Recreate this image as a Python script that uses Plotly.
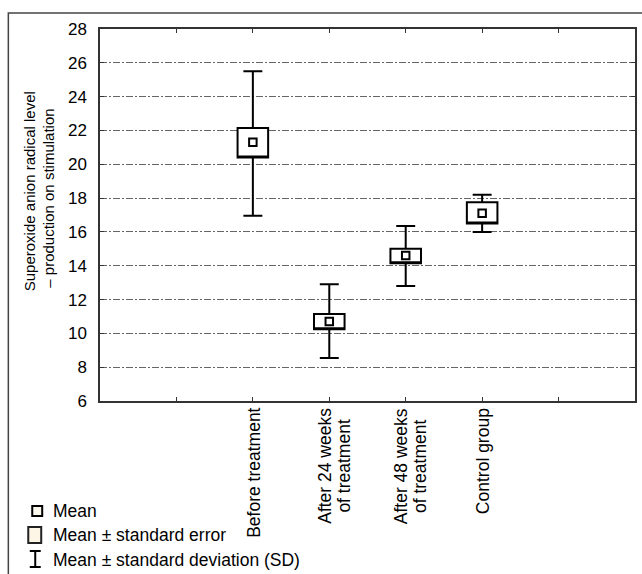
import plotly.graph_objects as go

# ---- data ----
categories = ["Before treatment", "After 24 weeks<br>of treatment",
              "After 48 weeks<br>of treatment", "Control group"]
mean_vals = [21.3, 10.7, 14.6, 17.1]
se_low = [20.4, 10.25, 14.15, 16.5]
se_high = [22.15, 11.15, 15.0, 17.75]
sd_low = [16.95, 8.55, 12.8, 16.0]
sd_high = [25.5, 12.9, 16.35, 18.2]
y_ticks = [6, 8, 10, 12, 14, 16, 18, 20, 22, 24, 26, 28]
legend_labels = ["Mean", "Mean ± standard error", "Mean ± standard deviation (SD)"]
y_title_lines = ["Superoxide anion radical level", "– production on stimulation"]

FONT = "Liberation Sans, Arial, sans-serif"
W, H = 642, 574
ML, MR, MT, MB = 100, 5, 29, 173
PW, PH = W - ML - MR, H - MT - MB

# category slots: one empty slot on each side of the 4 groups
xpos = [i + 2 for i in range(len(categories))]
tickvals = list(range(1, len(categories) + 3))


def px(xp):
    return (xp - ML) / PW


def py(yp):
    return (H - MB - yp) / PH


def big(s, size=17.5):
    # keep a tight line pitch (set by the small base font) with large glyphs
    return "<br>".join(f'<span style="font-size:{size}px">{p}</span>' for p in s.split("<br>"))


fig = go.Figure()

# SE box + SD whiskers
fig.add_trace(go.Box(
    x=xpos, q1=se_low, median=se_low, q3=se_high,
    lowerfence=sd_low, upperfence=sd_high,
    width=0.4, whiskerwidth=0.62,
    fillcolor="white", line=dict(color="black", width=2),
    boxpoints=False, showlegend=False, hoverinfo="skip",
))

# Mean marker
fig.add_trace(go.Scatter(
    x=xpos, y=mean_vals, mode="markers",
    marker=dict(symbol="square", size=7.5, color="white",
                line=dict(color="black", width=2)),
    showlegend=False,
))

shapes = []
annotations = []

# outer frame (only top/left visible)
shapes.append(dict(type="rect", xref="paper", yref="paper",
                   x0=px(8), x1=px(660), y0=py(600), y1=py(13),
                   line=dict(color="#444", width=1.5), layer="below"))

# legend icons
shapes.append(dict(type="rect", xref="paper", yref="paper",
                   x0=px(32), x1=px(42), y0=py(516), y1=py(506),
                   fillcolor="#fdf8ee", line=dict(color="black", width=2)))
shapes.append(dict(type="rect", xref="paper", yref="paper",
                   x0=px(28), x1=px(41), y0=py(543), y1=py(527),
                   fillcolor="#fdf6e6", line=dict(color="#222", width=2)))
shapes.append(dict(type="line", xref="paper", yref="paper",
                   x0=px(35), x1=px(35), y0=py(567), y1=py(551),
                   line=dict(color="black", width=2)))
shapes.append(dict(type="line", xref="paper", yref="paper",
                   x0=px(29.5), x1=px(40.5), y0=py(551), y1=py(551),
                   line=dict(color="black", width=2)))
shapes.append(dict(type="line", xref="paper", yref="paper",
                   x0=px(29.5), x1=px(40.5), y0=py(567), y1=py(567),
                   line=dict(color="black", width=2)))

for lab, yc in zip(legend_labels, [511, 535, 560]):
    annotations.append(dict(text=lab, xref="paper", yref="paper",
                            x=px(51), y=py(yc), xanchor="left", yanchor="middle",
                            showarrow=False, font=dict(family=FONT, size=17.5, color="black")))

# category labels (rotated, lines centred on each other)
for xv, cat in zip(xpos, categories):
    nlines = cat.count("<br>") + 1
    annotations.append(dict(text=big(cat), xref="x", yref="paper",
                            x=xv, y=py(406), xanchor="center", yanchor="top",
                            xshift=1 + 3.5 * (nlines - 1),
                            textangle=-90, align="center", showarrow=False,
                            font=dict(family=FONT, size=14.6, color="black")))

# y-axis title (two lines)
for line, xc, yc in zip(y_title_lines, [30, 48], [191, 198.5]):
    annotations.append(dict(text=line, xref="paper", yref="paper",
                            x=px(xc), y=py(yc), xanchor="center", yanchor="middle",
                            textangle=-90, showarrow=False,
                            font=dict(family=FONT, size=15, color="black")))

fig.update_layout(
    width=W, height=H,
    margin=dict(l=ML, r=MR, t=MT, b=MB),
    paper_bgcolor="white", plot_bgcolor="white",
    font=dict(family=FONT, size=17, color="black"),
    shapes=shapes, annotations=annotations,
    showlegend=False,
)
fig.update_xaxes(
    range=[0, len(categories) + 3], tickmode="array",
    tickvals=tickvals, ticktext=[""] * len(tickvals),
    ticks="inside", ticklen=4, tickcolor="#333", tickwidth=1,
    showline=True, linecolor="#333", linewidth=1.5, mirror="ticks",
    showgrid=False, zeroline=False,
)
fig.update_yaxes(
    range=[6, 28], tickmode="array", tickvals=y_ticks,
    ticks="inside", ticklen=4, tickcolor="#333", tickwidth=1,
    showline=True, linecolor="#333", linewidth=1.5, mirror="ticks",
    showgrid=True, gridcolor="#666", gridwidth=1, griddash="7px,2px,2px,2px",
    zeroline=False, ticklabelstandoff=8,
    tickfont=dict(family=FONT, size=17, color="black"),
)

fig.write_html("out.html")
